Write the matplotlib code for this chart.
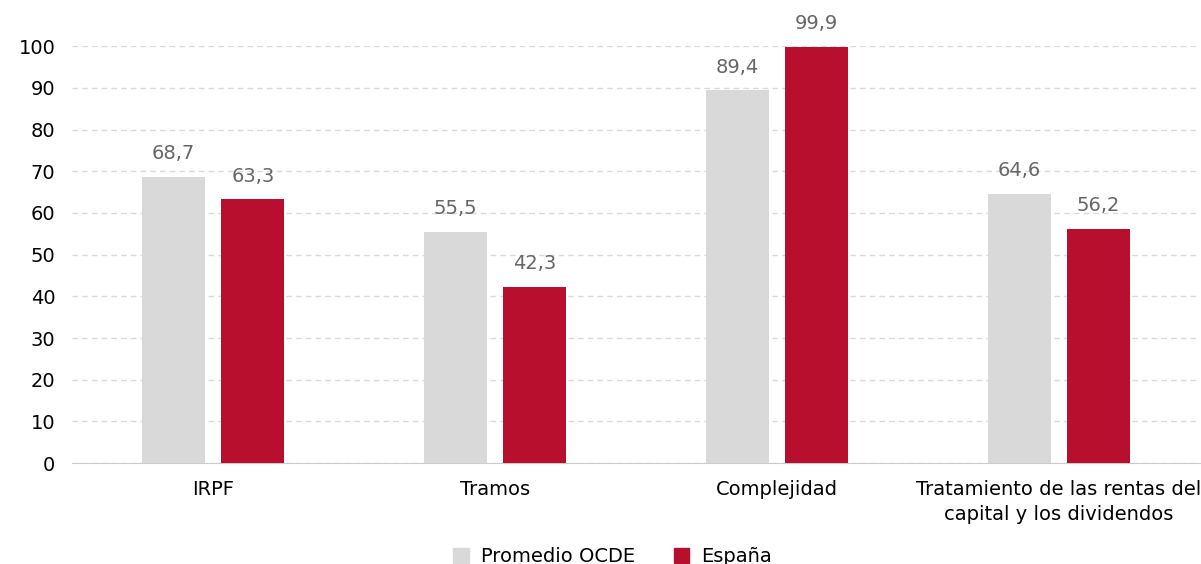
import matplotlib
matplotlib.use("Agg")
import matplotlib.pyplot as plt
import numpy as np
from matplotlib.patches import Patch

categories = ["IRPF", "Tramos", "Complejidad", "Tratamiento de las rentas del\ncapital y los dividendos"]
ocde = [68.7, 55.5, 89.4, 64.6]
espana = [63.3, 42.3, 99.9, 56.2]
series_names = ["Promedio OCDE", "España"]
yticks = [0, 10, 20, 30, 40, 50, 60, 70, 80, 90, 100]

plt.rcParams['font.family'] = ['DejaVu Sans']

fig = plt.figure(figsize=(12.01, 5.64), dpi=100)
ax = fig.add_axes([0.06, 0.179, 0.939, 0.739])

x = np.arange(len(categories))
w = 0.223
off = 0.141
c_gray = "#d9d9d9"
c_red = "#b80f2f"
b1 = ax.bar(x - off, ocde, w, color=c_gray, zorder=3)
b2 = ax.bar(x + off, espana, w, color=c_red, zorder=3)

def fmt(v):
    return f"{v:.1f}".replace(".", ",")

for bars, vals in ((b1, ocde), (b2, espana)):
    for r, v in zip(bars, vals):
        ax.text(r.get_x() + r.get_width() / 2, v + 3.2, fmt(v), ha="center", va="bottom",
                fontsize=14, color="#666666", clip_on=False)

ax.set_xlim(-0.5, 3.5)
ax.set_ylim(0, 100)
ax.set_yticks(yticks)
ax.set_yticklabels([str(t) for t in yticks], fontsize=14, color="#000000")
ax.set_xticks(x)
ax.set_xticklabels(categories, fontsize=14, color="#000000", linespacing=1.45)
ax.tick_params(axis="x", length=0, pad=12)
ax.tick_params(axis="y", length=0, pad=12)
for s in ("left", "right", "top"):
    ax.spines[s].set_visible(False)
ax.spines["bottom"].set_color("#cccccc")
ax.yaxis.grid(True, linestyle=(0, (4, 3)), color="#d9d9d9", linewidth=1, zorder=0)
ax.set_axisbelow(True)

handles = [Patch(color=c_gray), Patch(color=c_red)]
fig.legend(handles, series_names, loc="lower center", bbox_to_anchor=(0.51, -0.035), ncol=2,
           frameon=False, fontsize=14, handlelength=0.8, handleheight=0.8, columnspacing=2.0,
           handletextpad=0.6)

fig.savefig("out.png", dpi=100)
